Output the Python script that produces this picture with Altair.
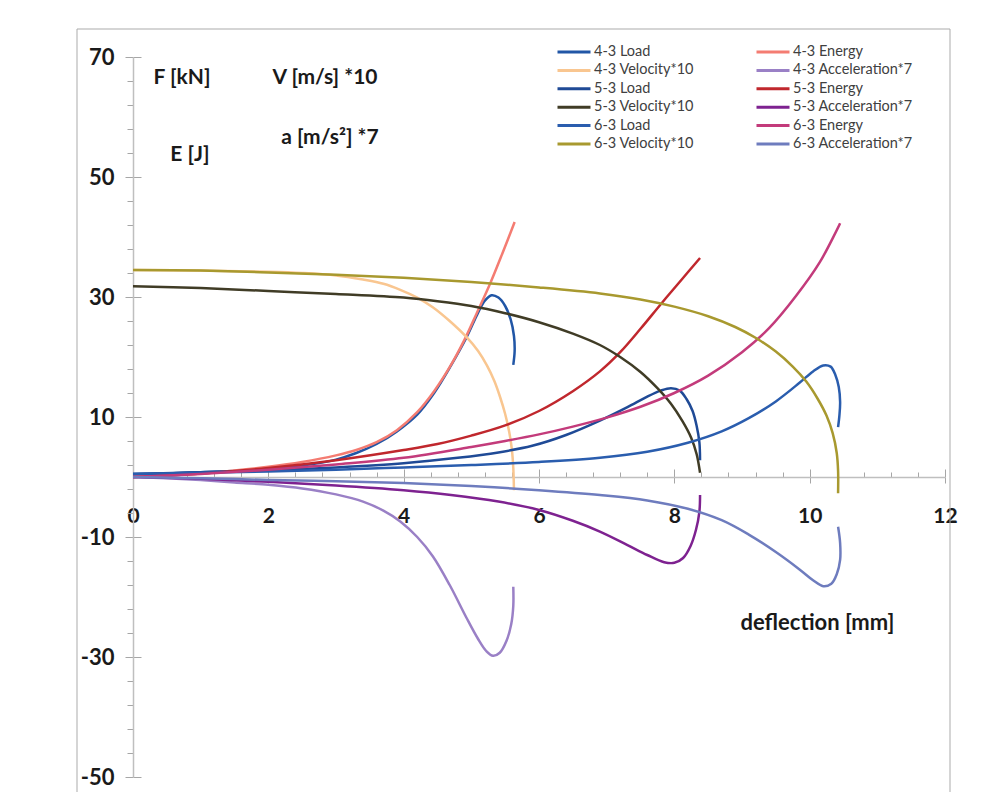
import altair as alt
import pandas as pd

# ---------------- data ----------------
SERIES = [
    "4-3 Load", "4-3 Energy", "4-3 Velocity*10", "4-3 Acceleration*7",
    "5-3 Load", "5-3 Energy", "5-3 Velocity*10", "5-3 Acceleration*7",
    "6-3 Load", "6-3 Energy", "6-3 Velocity*10", "6-3 Acceleration*7",
]
COLORS = [
    "#2156A6", "#F47C72", "#F9C690", "#9A80C6",
    "#1F4A96", "#C0272D", "#403C26", "#7E2290",
    "#2A5DAE", "#C33B7B", "#A8992F", "#6E7CBE",
]

L43_X = [0, 0.5, 1, 1.5, 2, 2.5, 3.0, 3.3, 3.6, 3.9, 4.2, 4.45, 4.7, 4.93, 5.1, 5.2, 5.3, 5.4, 5.5, 5.58, 5.63, 5.64, 5.62]
L43_Y = [0.5, 0.6, 0.8, 1.0, 1.3, 1.9, 2.9, 4.0, 5.5, 7.6, 10.4, 14.0, 18.6, 23.3, 27.4, 29.4, 30.3, 29.9, 28.5, 26.3, 23.5, 21.0, 18.7]

E43_X = [0, 0.5, 1, 1.5, 2, 2.5, 3.0, 3.3, 3.6, 3.9, 4.2, 4.45, 4.68, 4.9, 5.08, 5.28, 5.46, 5.64]
E43_Y = [0, 0.25, 0.6, 1.1, 1.7, 2.5, 3.6, 4.5, 5.8, 7.8, 10.8, 14.3, 18.3, 22.9, 27.3, 32.3, 37.3, 42.5]

V43_X = [0, 1, 2, 2.5, 3.0, 3.4, 3.7, 3.95, 4.2, 4.43, 4.68, 4.93, 5.1, 5.23, 5.34, 5.42, 5.5, 5.56, 5.6, 5.62, 5.63]
V43_Y = [34.5, 34.4, 34.2, 34.0, 33.6, 32.9, 32.2, 31.2, 29.9, 28.3, 26.0, 23.3, 21.0, 18.6, 16.0, 13.5, 10.5, 7.5, 4.5, 1.5, -2.2]

A43_X = [0, 0.5, 1, 1.5, 2, 2.5, 3.0, 3.4, 3.7, 3.95, 4.2, 4.43, 4.68, 4.93, 5.1, 5.22, 5.32, 5.42, 5.52, 5.59, 5.62, 5.62]
A43_Y = [0, -0.2, -0.5, -0.9, -1.3, -1.9, -2.9, -4.1, -5.6, -7.4, -10.0, -13.2, -18.0, -23.5, -27.0, -29.0, -29.8, -29.3, -27.3, -24.5, -21.5, -18.3]

L53_X = [0, 1, 2, 3, 4, 4.8, 5.4, 5.9, 6.4, 6.9, 7.3, 7.6, 7.8, 7.95, 8.08, 8.18, 8.27, 8.33, 8.37, 8.38]
L53_Y = [0.5, 0.8, 1.1, 1.6, 2.3, 3.2, 4.1, 5.2, 7.0, 9.4, 11.6, 13.4, 14.4, 14.8, 14.4, 13.0, 11.0, 8.5, 5.8, 2.8]

E53_X = [0, 1, 2, 3, 4, 4.5, 5, 5.5, 6, 6.5, 6.9, 7.2, 7.5, 7.8, 8.1, 8.38]
E53_Y = [0, 0.6, 1.5, 2.8, 4.5, 5.5, 6.9, 8.6, 11.0, 14.3, 17.6, 20.8, 24.7, 28.8, 32.8, 36.5]

V53_X = [0, 1, 2, 3, 4, 4.5, 5, 5.5, 6, 6.5, 6.9, 7.2, 7.5, 7.75, 7.95, 8.12, 8.25, 8.33, 8.38]
V53_Y = [31.8, 31.5, 31.0, 30.5, 29.9, 29.3, 28.5, 27.3, 25.8, 23.9, 22.0, 20.0, 17.5, 14.8, 12.2, 9.3, 6.5, 3.8, 0.7]

A53_X = [0, 1, 2, 3, 4, 4.7, 5.4, 6.0, 6.5, 6.9, 7.3, 7.6, 7.85, 8.0, 8.13, 8.24, 8.32, 8.37, 8.38]
A53_Y = [0, -0.3, -0.8, -1.4, -2.2, -3.0, -4.1, -5.5, -7.3, -9.1, -11.3, -13.0, -14.2, -14.3, -13.5, -11.5, -8.8, -5.8, -3.0]

L63_X = [0, 1, 2, 3, 4, 5, 6, 6.9, 7.6, 8.2, 8.7, 9.1, 9.5, 9.85, 10.05, 10.2, 10.31, 10.38, 10.43, 10.45, 10.44, 10.42]
L63_Y = [0.5, 0.7, 0.9, 1.2, 1.6, 2.0, 2.5, 3.2, 4.2, 5.7, 7.6, 9.8, 12.6, 15.7, 17.6, 18.6, 18.4, 17.0, 15.0, 12.5, 10.3, 8.3]

E63_X = [0, 1, 2, 3, 4, 5, 5.5, 6, 6.5, 7, 7.5, 8, 8.5, 9, 9.4, 9.8, 10.15, 10.45]
E63_Y = [0, 0.5, 1.2, 2.1, 3.2, 5.0, 6.0, 7.1, 8.4, 9.9, 11.7, 14.0, 16.9, 20.8, 24.8, 30.2, 35.8, 42.3]

V63_X = [0, 1, 2, 3, 4, 5, 6, 6.9, 7.5, 8.0, 8.5, 8.9, 9.2, 9.5, 9.75, 9.95, 10.12, 10.25, 10.34, 10.4, 10.42, 10.42]
V63_Y = [34.5, 34.4, 34.1, 33.7, 33.2, 32.5, 31.6, 30.6, 29.6, 28.4, 26.8, 25.0, 23.2, 20.9, 18.4, 15.9, 13.0, 10.2, 7.3, 4.0, 1.0, -2.7]

A63_X = [0, 1, 2, 3, 4, 5, 6, 6.9, 7.6, 8.2, 8.7, 9.1, 9.5, 9.85, 10.05, 10.2, 10.32, 10.4, 10.45, 10.45, 10.42]
A63_Y = [0, -0.2, -0.5, -0.7, -1.0, -1.5, -2.2, -3.0, -3.9, -5.3, -7.2, -9.6, -12.5, -15.4, -17.2, -18.2, -17.8, -16.2, -13.8, -11.0, -8.3]

X_MAJOR = [0, 2, 4, 6, 8, 10, 12]
X_MINOR = [0, 0.4, 0.8, 1.2, 1.6, 2, 2.4, 2.8, 3.2, 3.6, 4, 4.4, 4.8, 5.2, 5.6, 6,
           6.4, 6.8, 7.2, 7.6, 8, 8.4, 8.8, 9.2, 9.6, 10, 10.4, 10.8, 11.2, 11.6, 12]
Y_MAJOR = [-50, -30, -10, 10, 30, 50, 70]
Y_MINOR = [-50, -46, -42, -38, -34, -30, -26, -22, -18, -14, -10, -6, -2, 2, 6, 10,
           14, 18, 22, 26, 30, 34, 38, 42, 46, 50, 54, 58, 62, 66, 70]

SERIES_XY = [
    (L43_X, L43_Y), (E43_X, E43_Y), (V43_X, V43_Y), (A43_X, A43_Y),
    (L53_X, L53_Y), (E53_X, E53_Y), (V53_X, V53_Y), (A53_X, A53_Y),
    (L63_X, L63_Y), (E63_X, E63_Y), (V63_X, V63_Y), (A63_X, A63_Y),
]

rows = []
for name, (xs, ys) in zip(SERIES, SERIES_XY):
    for i, (xv, yv) in enumerate(zip(xs, ys)):
        rows.append({"series": name, "x": xv, "y": yv, "i": i})
df = pd.DataFrame(rows)

# ---------------- styling ----------------
FONT = "Lato"
TXT = "#1A1A1A"
AXIS_GRAY = "#BFBFBF"
TICK_GRAY = "#A6A6A6"
W, H = 812, 720
ZERO_Y = 420  # pixel of y = 0 inside plot area

xscale = alt.Scale(domain=[0, 12], nice=False, zero=False)
yscale = alt.Scale(domain=[-50, 70], nice=False, zero=False)

lines = alt.Chart(df).mark_line(strokeWidth=2.5, interpolate="catmull-rom").encode(
    x=alt.X("x:Q", scale=xscale, axis=alt.Axis(
        orient="bottom", offset=ZERO_Y - H, values=X_MAJOR, ticks=False, tickSize=0,
        labelPadding=28, labelFlush=False, labelOverlap=False,
        labelExpr="'' + datum.value",
        labelFont=FONT, labelFontSize=21, labelFontWeight="bold", labelColor=TXT,
        domain=True, domainColor=AXIS_GRAY, domainWidth=1.5, grid=False,
        title="deflection [mm]", titleX=684, titleY=145, titleAlign="center",
        titleBaseline="middle", titleFont=FONT, titleFontSize=22,
        titleFontWeight="bold", titleColor=TXT)),
    y=alt.Y("y:Q", scale=yscale, axis=alt.Axis(
        orient="left", values=Y_MAJOR, ticks=False, tickSize=0, labelPadding=19,
        labelFlush=False, labelOverlap=False,
        labelExpr="'' + datum.value",
        labelFont=FONT, labelFontSize=22, labelFontWeight="bold", labelColor=TXT,
        domain=True, domainColor=AXIS_GRAY, domainWidth=1.5, grid=False, title=None)),
    color=alt.Color("series:N", scale=alt.Scale(domain=SERIES, range=COLORS),
                    legend=alt.Legend(
                        orient="none", legendX=423, legendY=-12, columns=2,
                        direction="horizontal", clipHeight=14,
                        title=None, symbolType="stroke", symbolSize=1089,
                        symbolStrokeWidth=3, labelFont=FONT, labelFontSize=14.5,
                        labelColor="#404040", rowPadding=4.5 - 1.1, columnPadding=60,
                        labelOffset=2, padding=0)),
    order="i:Q",
)

anchor = alt.Data(values=[{"x": 0, "y": 0}])

ticks_a = alt.Chart(anchor).mark_point(opacity=0).encode(
    x=alt.X("x:Q", scale=xscale, axis=alt.Axis(
        orient="top", offset=-ZERO_Y, values=X_MINOR, labels=False, domain=False,
        ticks=True, tickColor=TICK_GRAY, tickWidth=1,
        tickSize={"condition": {"test": "abs(datum.value/2 - round(datum.value/2)) < 0.01", "value": 8}, "value": 5},
        grid=False, title=None)),
    y=alt.Y("y:Q", scale=yscale, axis=alt.Axis(
        orient="left", values=Y_MINOR, labels=False, domain=False,
        ticks=True, tickColor=TICK_GRAY, tickWidth=1,
        tickSize={"condition": {"test": "(datum.value + 50) % 20 === 0", "value": 8}, "value": 6},
        grid=False, title=None)),
)

ticks_b = alt.Chart(anchor).mark_point(opacity=0).encode(
    x=alt.X("x:Q", scale=xscale, axis=alt.Axis(
        orient="bottom", offset=ZERO_Y - H, values=X_MAJOR, labels=False, domain=False,
        ticks=True, tickColor=TICK_GRAY, tickWidth=1, tickSize=6, grid=False, title=None)),
    y=alt.Y("y:Q", scale=yscale, axis=alt.Axis(
        orient="right", offset=-W, values=Y_MAJOR, labels=False, domain=False,
        ticks=True, tickColor=TICK_GRAY, tickWidth=1, tickSize=8, grid=False, title=None)),
)

frame = alt.Chart(alt.Data(values=[{}])).mark_rect(
    fillOpacity=0, stroke="#ABABAB", strokeWidth=1
).encode(x=alt.value(-56), x2=alt.value(817), y=alt.value(-28), y2=alt.value(800))


def note(txt, px, py):
    return alt.Chart(alt.Data(values=[{}])).mark_text(
        font=FONT, fontSize=21, fontWeight="bold", color=TXT,
        align="center", baseline="middle"
    ).encode(x=alt.value(px), y=alt.value(py), text=alt.value(txt))


notes = [
    note("F [kN]", 49, 21),
    note("V [m/s] *10", 192, 21),
    note("E [J]", 57, 98),
    note("a [m/s²] *7", 197, 81),
]

chart = alt.layer(frame, ticks_a, ticks_b, lines, *notes).resolve_axis(
    x="independent", y="independent"
).properties(
    width=W, height=H,
    padding={"left": 125, "top": 49, "right": 40, "bottom": 15},
    autosize=alt.AutoSizeParams(type="none"),
).configure_view(stroke=None).configure_axis(grid=False)

chart.save("out.html", embed_options={"renderer": "svg", "actions": False})
